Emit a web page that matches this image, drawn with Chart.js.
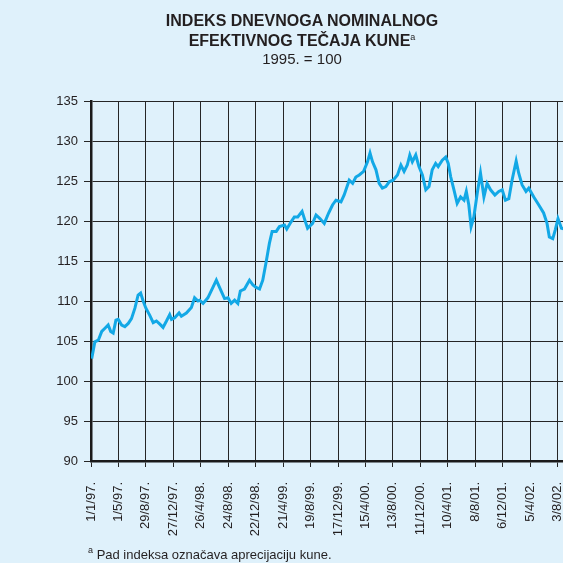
<!DOCTYPE html>
<html>
<head>
<meta charset="utf-8">
<script src="https://cdn.jsdelivr.net/npm/chart.js@4.4.1/dist/chart.umd.min.js"></script>
<style>
  html, body { margin: 0; padding: 0; width: 563px; height: 563px; overflow: hidden; background: #dff1fb; }
  #wrap { position: relative; width: 604px; height: 563px; font-family: "Liberation Sans", Arial, sans-serif; color: #231f20; }
  #chart { position: absolute; left: 0; top: 0; }
  .title { position: absolute; left: 0; width: 604px; text-align: center; font-weight: bold; font-size: 16px; line-height: 18px; }
  .sub { position: absolute; left: 0; width: 604px; text-align: center; font-size: 15px; line-height: 18px; }
  .note { position: absolute; left: 88px; top: 542px; font-size: 13px; line-height: 16px; }
  sup { font-size: 9px; vertical-align: 6px; font-weight: normal; }
</style>
</head>
<body>
<div id="wrap">
  <canvas id="chart" width="604" height="563"></canvas>
  <div class="title" style="top:12px">INDEKS DNEVNOGA NOMINALNOG</div>
  <div class="title" style="top:28px">EFEKTIVNOG TEČAJA KUNE<sup>a</sup></div>
  <div class="sub" style="top:50px">1995. = 100</div>
  <div class="note"><sup>a</sup> Pad indeksa označava aprecijaciju kune.</div>
</div>
<script>
// dani od 1/1/97. i vrijednost indeksa (očitano sa slike)
const days = [
  3, 17, 32, 47, 61, 75, 86, 97, 109, 119, 134, 148, 163, 177, 192, 206, 217, 228, 240, 257,
  272, 286, 301, 315, 330, 344, 352, 366, 385, 395, 417, 439, 453, 468, 475, 490, 511, 533, 548, 562,
  584, 599, 613, 628, 642, 653, 671, 693, 708, 722, 737, 751, 766, 780, 792, 810, 824, 846, 856, 875,
  889, 904, 923, 933, 947, 969, 984, 1001, 1020, 1039, 1056, 1071, 1093, 1107, 1129, 1144, 1158, 1173, 1192, 1209,
  1220, 1231, 1246, 1260, 1274, 1289, 1304, 1321, 1340, 1355, 1369, 1383, 1394, 1405, 1420, 1434, 1449, 1464, 1478, 1492,
  1507, 1518, 1536, 1551, 1562, 1573, 1587, 1601, 1616, 1631, 1641, 1652, 1662, 1674, 1689, 1703, 1718, 1732, 1747, 1766,
  1783, 1798, 1812, 1827, 1841, 1859, 1870, 1885, 1902, 1914, 1936, 1958, 1979, 1994, 2004, 2019, 2030, 2042, 2057, 2070
];
const indeks = [
  102.8, 104.9, 105.1, 106.2, 106.6, 107.0, 106.2, 106.0, 107.6, 107.7, 107.0, 106.8, 107.2, 107.8, 109.1, 110.75, 111.0, 110.0, 109.1, 108.2,
  107.3, 107.5, 107.1, 106.7, 107.5, 108.3, 107.7, 107.9, 108.5, 108.1, 108.5, 109.2, 110.4, 110.0, 110.1, 109.7, 110.4, 111.7, 112.6, 111.7,
  110.3, 110.4, 109.7, 110.1, 109.7, 111.25, 111.5, 112.6, 112.0, 111.7, 111.5, 112.6, 114.9, 117.2, 118.7, 118.7, 119.3, 119.5, 119.0, 119.9,
  120.5, 120.5, 121.2, 120.3, 119.1, 119.7, 120.75, 120.3, 119.7, 121.0, 122.0, 122.6, 122.4, 123.25, 125.1, 124.7, 125.5, 125.75, 126.2, 127.4,
  128.5, 127.4, 126.4, 124.7, 124.1, 124.3, 124.9, 125.1, 125.75, 127.0, 126.2, 127.0, 128.25, 127.4, 128.25, 126.8, 125.75, 123.9, 124.3, 126.4,
  127.2, 126.8, 127.6, 128.0, 127.2, 125.5, 123.9, 122.2, 123.0, 122.6, 123.7, 122.0, 119.3, 120.5, 123.5, 126.0, 123.0, 124.7, 123.9, 123.25,
  123.7, 123.9, 122.6, 122.8, 125.1, 127.5, 126.0, 124.5, 123.7, 124.1, 123.0, 122.0, 121.0, 119.7, 118.0, 117.8, 118.9, 120.3, 119.1, 119.0
];
const tickLabels = [
  '1/1/97.', '1/5/97.', '29/8/97.', '27/12/97.', '26/4/98.', '24/8/98.', '22/12/98.', '21/4/99.', '19/8/99.',
  '17/12/99.', '15/4/00.', '13/8/00.', '11/12/00.', '10/4/01.', '8/8/01.', '6/12/01.', '5/4/02.', '3/8/02.', '1/12/02.'
];

const gridColor = '#262626';
const font = { family: '"Liberation Sans", Arial, sans-serif', size: 13 };

new Chart(document.getElementById('chart'), {
  type: 'line',
  data: {
    datasets: [{
      data: days.map((d, i) => ({ x: d, y: indeks[i] })),
      borderColor: '#12a8e6',
      borderWidth: 3,
      pointRadius: 0,
      tension: 0,
      fill: false,
    }],
  },
  options: {
    responsive: false,
    animation: false,
    layout: { padding: { left: 0, top: 101, right: 19, bottom: 20 } },
    plugins: { legend: { display: false }, tooltip: { enabled: false } },
    scales: {
      x: {
        type: 'linear', min: 0, max: 2160,
        afterFit: s => { s.height = 82; s.paddingLeft = 0; s.paddingRight = 0; },
        afterBuildTicks: s => { s.ticks = tickLabels.map((_, i) => ({ value: i * 120 })); },
        ticks: {
          autoSkip: false, minRotation: 90, maxRotation: 90, padding: 15,
          color: '#231f20', font,
          callback: v => tickLabels[Math.round(v / 120)] ?? '',
        },
        grid: { color: gridColor, tickColor: gridColor, tickLength: 6, lineWidth: 1 },
        border: { display: true, color: '#1a1a1a', width: 2.5 },
      },
      y: {
        min: 90, max: 135,
        afterFit: s => { s.width = 91; s.paddingTop = 0; s.paddingBottom = 0; },
        ticks: { stepSize: 5, padding: 6, color: '#231f20', font },
        grid: { color: gridColor, tickColor: gridColor, tickLength: 7, lineWidth: 1 },
        border: { display: true, color: '#1a1a1a', width: 2.5 },
      },
    },
  },
});
</script>
</body>
</html>
